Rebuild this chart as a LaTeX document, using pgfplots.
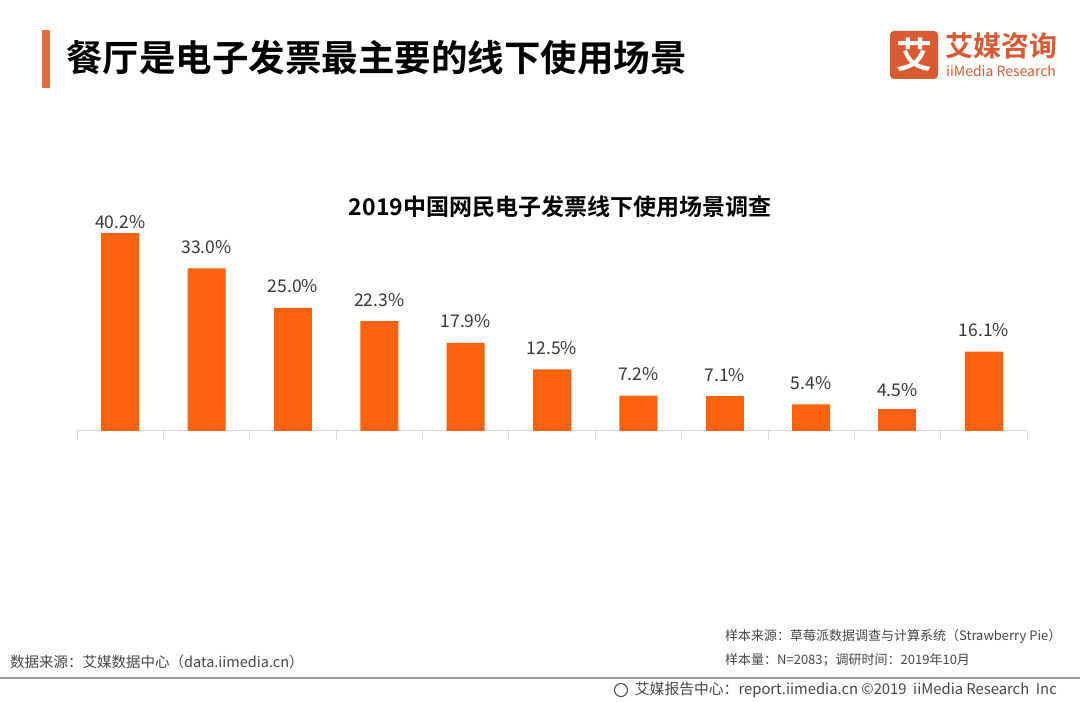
\documentclass[border=0pt]{standalone}
\usepackage{pgfplots}
\pgfplotsset{compat=1.18}
\usepackage{fontspec}
\setmainfont{Noto Sans CJK SC}[BoldFont={Noto Sans CJK SC Bold}]
\definecolor{barorange}{RGB}{250,98,14}
\definecolor{accent}{RGB}{230,110,60}
\definecolor{logored}{RGB}{217,90,50}
\definecolor{axgray}{RGB}{217,217,217}
\definecolor{txt}{RGB}{55,55,55}
\definecolor{foot}{RGB}{70,70,70}
\begin{document}
\begin{tikzpicture}[x=1pt,y=1pt]
\fill[white] (0,0) rectangle (1080,702);
\useasboundingbox (0,0) rectangle (1080,702);
% header
\fill[accent] (42,702-88) rectangle (50,702-30);
\node[anchor=west,inner sep=0,font=\fontsize{36.5}{40}\selectfont\bfseries,text=black] at (66,702-58) {餐厅是电子发票最主要的线下使用场景};
% logo
\fill[logored,rounded corners=4pt] (890,702-79) rectangle (938,702-31);
\node[text=white,font=\fontsize{36}{40}\selectfont\bfseries,inner sep=0] at (914,702-55) {艾};
\node[anchor=west,text=logored,font=\fontsize{28}{30}\selectfont\bfseries,inner sep=0] at (945,702-46) {艾媒咨询};
\node[anchor=west,text=logored,font=\fontsize{14}{16}\selectfont,inner sep=0] at (946,702-71) {iiMedia Research};
% chart title
\node[font=\fontsize{23}{26}\selectfont\bfseries,text=black,inner sep=0] at (560,702-207) {2019中国网民电子发票线下使用场景调查};
\begin{axis}[
  at={(120.2pt,271pt)}, anchor=origin,
  scale only axis, width=950pt, height=246.25pt,
  xmin=-0.5, xmax=10.5, ymin=0, ymax=50,
  ybar, bar width=38pt, bar shift=0pt,
  axis x line*=bottom, axis y line=none,
  x axis line style={axgray, line width=1pt, -},
  xtick={-0.5,0.5,1.5,2.5,3.5,4.5,5.5,6.5,7.5,8.5,9.5,10.5},
  xticklabels={},
  major tick length=9pt, tick align=outside,
  xtick style={axgray, line width=0.8pt},
  clip=false,
  /pgf/number format/assume math mode=true,
  nodes near coords={\pgfmathprintnumber[fixed,fixed zerofill,precision=1]{\pgfplotspointmeta}\%},
  every node near coord/.append style={font=\fontsize{17.5}{19}\selectfont, text=txt, inner sep=0pt},
]
\addplot[fill=barorange, draw=none, every node near coord/.append style={yshift=14.5pt}] coordinates {
(1,33.0) (2,25.0) (3,22.3) (4,17.9) (5,12.5) (6,7.2) (7,7.1) (8,5.4) (10,16.1)};
\addplot[fill=barorange, draw=none, every node near coord/.append style={yshift=4.5pt}] coordinates {
(0,40.2)};
\addplot[fill=barorange, draw=none, every node near coord/.append style={yshift=11.5pt}] coordinates {
(9,4.5)};
\end{axis}
% footer
\node[anchor=west,text=foot,font=\fontsize{14.5}{16}\selectfont,inner sep=0] at (10,702-662) {数据来源：艾媒数据中心（data.iimedia.cn）};
\node[anchor=west,text=foot,font=\fontsize{13}{15}\selectfont,inner sep=0] at (725,702-636) {样本来源：草莓派数据调查与计算系统（Strawberry Pie）};
\node[anchor=west,text=foot,font=\fontsize{13}{15}\selectfont,inner sep=0] at (725,702-660) {样本量：N=2083；调研时间：2019年10月};
\draw[gray!80, line width=1.2pt] (0,702-678) -- (1080,702-678);
\node[anchor=east,text=foot,font=\fontsize{14.8}{16}\selectfont,inner sep=0] at (1057,702-690) {艾媒报告中心：report.iimedia.cn ©2019\ \ iiMedia Research\ \ Inc};
\draw[foot,line width=1pt] (621,702-690) circle (6.5);
\end{tikzpicture}
\end{document}
